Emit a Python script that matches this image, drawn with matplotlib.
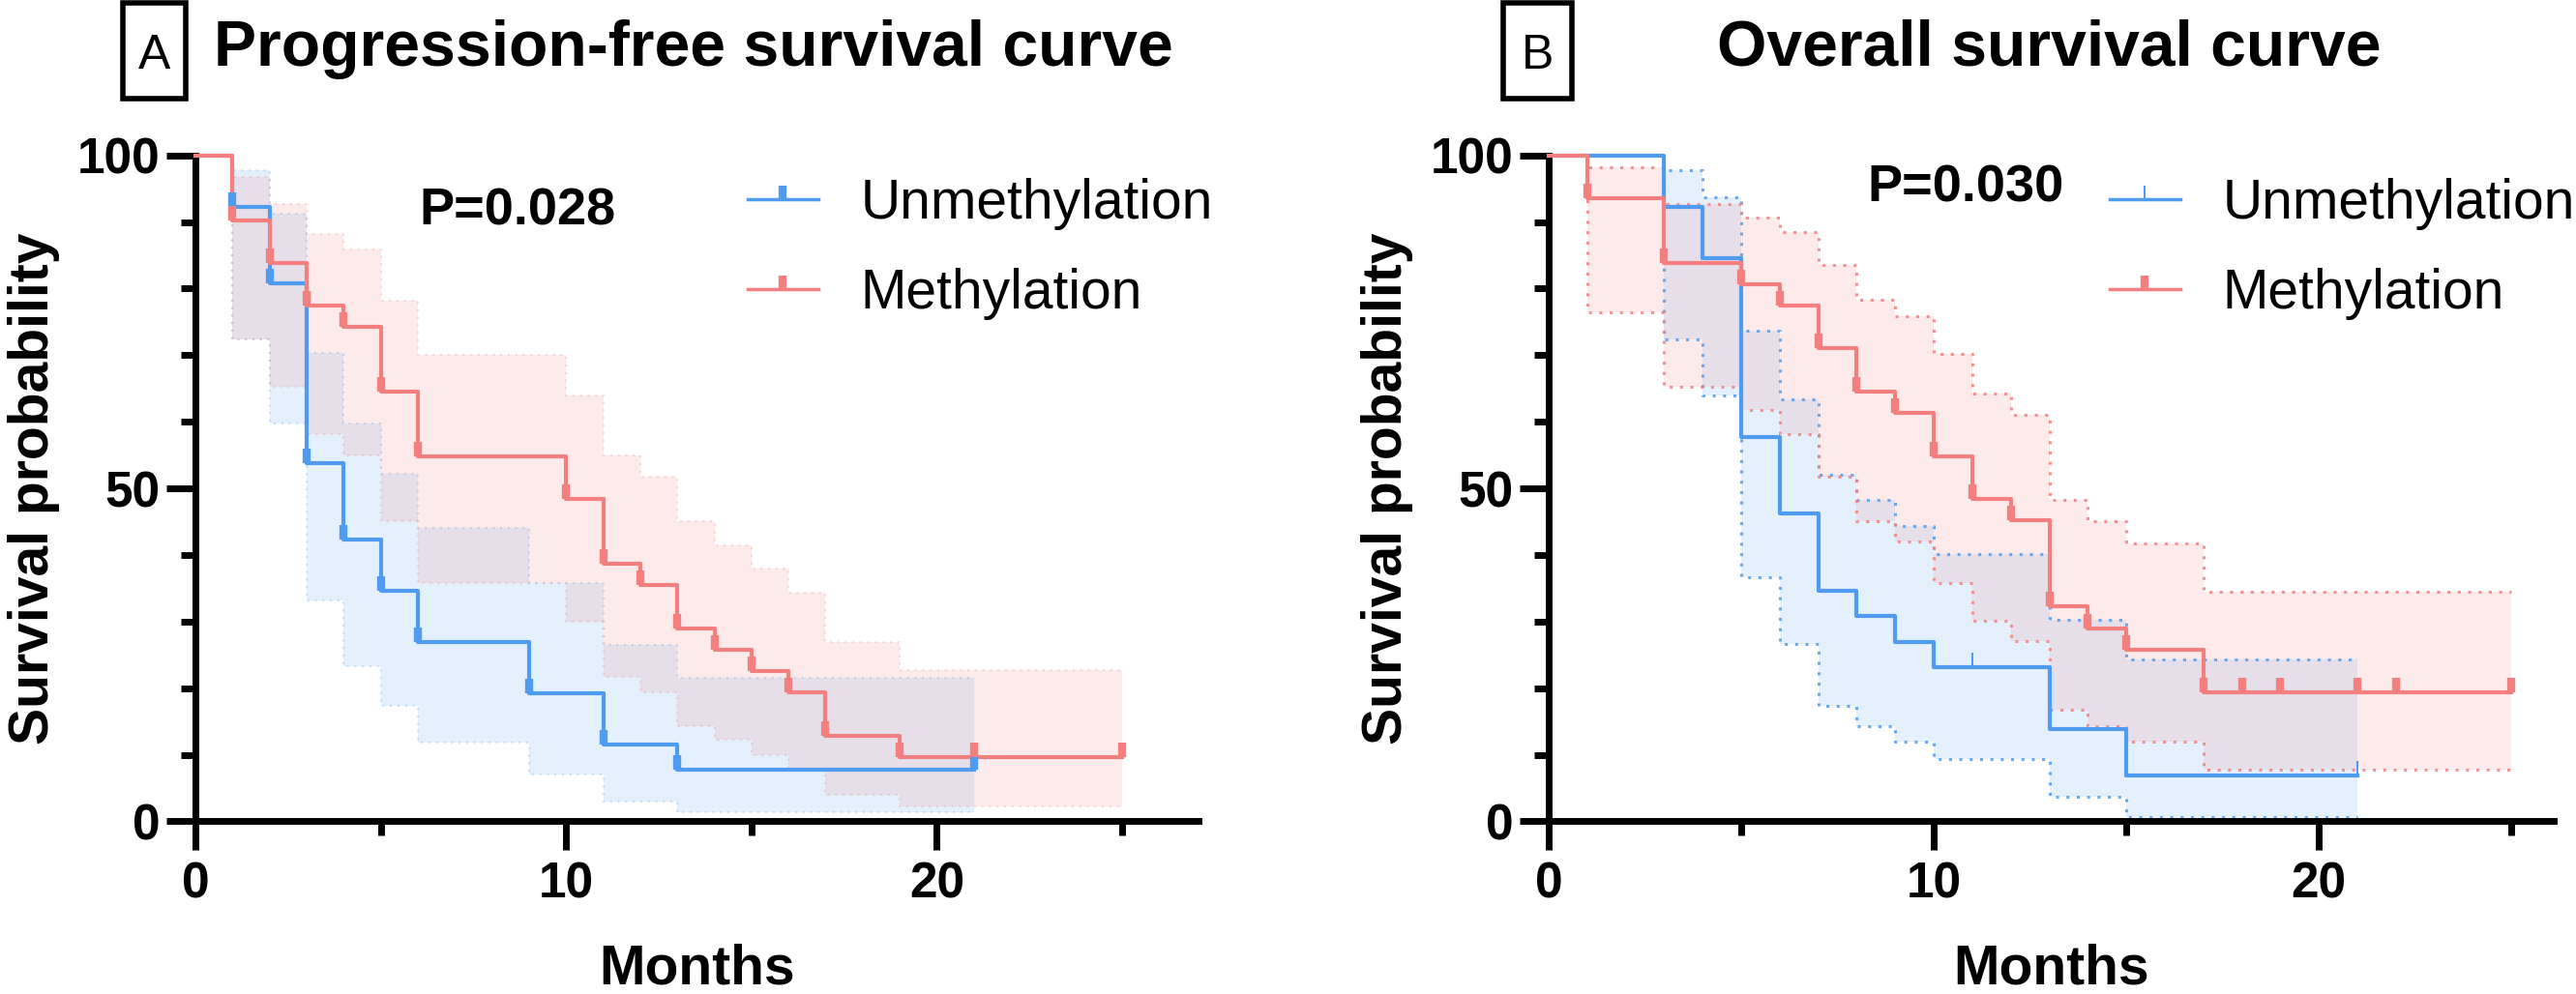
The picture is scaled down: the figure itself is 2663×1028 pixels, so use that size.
import matplotlib
matplotlib.use("Agg")
import matplotlib.pyplot as plt
from matplotlib.lines import Line2D
from matplotlib.patches import Rectangle
from matplotlib.ticker import MultipleLocator, FixedLocator

plt.rcParams['font.family'] = ['Liberation Sans', 'DejaVu Sans']

# ---------------- data ----------------
# Progression-free survival
pfs_un_t = [0, 1, 2, 3, 4, 5, 6, 9, 11, 13, 21]
pfs_un_s = [100, 92.3, 80.8, 53.8, 42.3, 34.6, 26.9, 19.2, 11.5, 7.7, 7.7]
pfs_un_hi = [100, 97.8, 91.3, 70.3, 59.8, 52.2, 44.0, 35.8, 26.5, 21.5, 21.5]
pfs_un_lo = [100, 72.3, 59.7, 33.2, 23.3, 17.3, 11.8, 7.0, 3.0, 1.3, 1.3]
pfs_un_cens = [1, 2, 3, 4, 5, 6, 9, 11, 13, 21]

pfs_me_t = [0, 1, 2, 3, 4, 5, 6, 10, 11, 12, 13, 14, 15, 16, 17, 19, 25]
pfs_me_s = [100, 90.3, 83.9, 77.4, 74.2, 64.5, 54.8, 48.4, 38.7, 35.5, 29.0, 25.8, 22.6, 19.4, 12.9, 9.7, 9.7]
pfs_me_hi = [100, 96.7, 92.7, 88.2, 85.8, 78.2, 70.0, 64.0, 54.9, 51.7, 45.0, 41.5, 38.0, 34.3, 26.9, 22.7, 22.7]
pfs_me_lo = [100, 72.3, 65.3, 58.2, 54.9, 45.0, 35.8, 30.0, 21.7, 19.3, 14.3, 12.2, 10.0, 7.8, 4.0, 2.3, 2.3]
pfs_me_cens = [1, 2, 3, 4, 5, 6, 10, 11, 12, 13, 14, 15, 16, 17, 19, 21, 25]

# Overall survival
os_un_t = [0, 3, 4, 5, 6, 7, 8, 9, 10, 13, 15, 21]
os_un_s = [100, 92.3, 84.6, 57.7, 46.2, 34.6, 30.8, 26.9, 23.1, 13.8, 6.9, 6.9]
os_un_hi = [100, 97.8, 93.7, 73.7, 63.3, 52.0, 48.3, 44.3, 40.1, 30.2, 24.3, 24.3]
os_un_lo = [100, 72.3, 64.0, 36.7, 26.7, 17.3, 14.3, 12.0, 9.3, 3.7, 0.7, 0.7]
os_un_cens = [11, 21]

os_me_t = [0, 1, 3, 5, 6, 7, 8, 9, 10, 11, 12, 13, 14, 15, 17, 25]
os_me_s = [100, 93.5, 83.9, 80.6, 77.4, 71.0, 64.5, 61.3, 54.8, 48.4, 45.2, 32.3, 29.0, 25.8, 19.4, 19.4]
os_me_hi = [100, 98.2, 92.7, 90.7, 88.5, 83.5, 78.3, 75.8, 70.2, 64.2, 61.1, 48.3, 45.0, 41.7, 34.5, 34.5]
os_me_lo = [100, 76.5, 65.3, 61.7, 58.2, 51.7, 45.0, 42.0, 35.8, 30.1, 27.1, 16.7, 14.3, 12.0, 7.8, 7.8]
os_me_cens = [1, 3, 5, 6, 7, 8, 9, 10, 11, 12, 13, 14, 15, 17, 18, 19, 21, 22, 25]

groups = ["Unmethylation", "Methylation"]
titles = ["Progression-free survival curve", "Overall survival curve"]
panel_letters = ["A", "B"]
pvalues = ["P=0.028", "P=0.030"]
x_major = [0, 10, 20]
x_minor = [5, 15, 25]
y_major = [0, 50, 100]

BLUE = "#4F9BF0"
RED = "#F47F7F"

W, H = 2663, 1028
fig = plt.figure(figsize=(W / 100, H / 100), dpi=100)


def step_value(times, vals, t):
    v = vals[0]
    for ti, vi in zip(times, vals):
        if ti <= t:
            v = vi
    return v


def km_panel(ax, series, xmax, edge_alpha, edge_lw):
    # confidence bands
    for (t, s, hi, lo, cens, col, mew) in series:
        ax.fill_between(t, lo, hi, step='post', color=col, alpha=0.15, lw=0, zorder=1)
    for (t, s, hi, lo, cens, col, mew) in series:
        for b in (hi, lo):
            ax.step(t, b, where='post', color=col, alpha=edge_alpha, lw=edge_lw,
                    ls=(0, (1, 2.5)), zorder=2)
    # survival curves + censor ticks
    for (t, s, hi, lo, cens, col, mew) in series:
        ax.step(t, s, where='post', color=col, lw=3, zorder=4, clip_on=False)
        cy = [step_value(t, s, c) for c in cens]
        ax.plot(cens, cy, ls='none', marker=2, ms=11, mew=mew, color=col,
                zorder=5, clip_on=False)
    ax.set_xlim(0, xmax)
    ax.set_ylim(0, 100)
    for sp in ('top', 'right'):
        ax.spines[sp].set_visible(False)
    for sp in ('left', 'bottom'):
        ax.spines[sp].set_linewidth(5)
    ax.xaxis.set_major_locator(FixedLocator(x_major))
    ax.xaxis.set_minor_locator(FixedLocator(x_minor))
    ax.yaxis.set_major_locator(FixedLocator(y_major))
    ax.yaxis.set_minor_locator(MultipleLocator(10))
    ax.tick_params(which='major', length=21.5, width=5, direction='out')
    ax.tick_params(which='minor', length=11, width=5, direction='out')
    ax.tick_params(axis='x', which='major', pad=8, labelsize=37)
    ax.tick_params(axis='y', which='major', pad=5, labelsize=37)
    for lab in ax.get_xticklabels() + ax.get_yticklabels():
        lab.set_fontweight('bold')
    ax.set_xlabel("Months", fontsize=41, fontweight='bold', va='baseline')
    ax.xaxis.set_label_coords(0.5, -0.2435)
    ax.set_ylabel("Survival probability", fontsize=41, fontweight='bold')
    ax.yaxis.set_label_coords(-0.135, 0.5)


bottom = (H - 849.4) / H
height = 688.7 / H

axA = fig.add_axes([202 / W, bottom, 1037 / W, height])
km_panel(axA, [
    (pfs_un_t, pfs_un_s, pfs_un_hi, pfs_un_lo, pfs_un_cens, BLUE, 6),
    (pfs_me_t, pfs_me_s, pfs_me_hi, pfs_me_lo, pfs_me_cens, RED, 6),
], 27.06, 0.25, 1.6)

axB = fig.add_axes([1601 / W, bottom, 1039 / W, height])
km_panel(axB, [
    (os_un_t, os_un_s, os_un_hi, os_un_lo, os_un_cens, BLUE, 1.5),
    (os_me_t, os_me_s, os_me_hi, os_me_lo, os_me_cens, RED, 6),
], 26.1, 0.85, 2.2)

# P values
axA.text(6.03, 89.6, pvalues[0], fontsize=39, fontweight='bold', va='baseline', ha='left')
axB.text(8.27, 93.0, pvalues[1], fontsize=39, fontweight='bold', va='baseline', ha='left')

# legends
for ax, left_px, un_mew in ((axA, 773, 6), (axB, 2181, 1.5)):
    handles = [
        Line2D([], [], color=BLUE, lw=2.5, marker=2, ms=10, mew=un_mew),
        Line2D([], [], color=RED, lw=2.5, marker=2, ms=10, mew=6),
    ]
    ax.legend(handles, groups, loc='upper left',
              bbox_to_anchor=(left_px / W, 1 - 184 / H), bbox_transform=fig.transFigure,
              frameon=False, fontsize=41, handlelength=1.28, handletextpad=0.77,
              labelspacing=0.68, borderpad=0, borderaxespad=0, numpoints=1)

# titles and panel letters
fig.text(221 / W, 1 - 68 / H, titles[0], fontsize=47.5, fontweight='bold', va='baseline', ha='left')
fig.text(1775 / W, 1 - 68 / H, titles[1], fontsize=47.5, fontweight='bold', va='baseline', ha='left')
for letter, x0, x1 in ((panel_letters[0], 127, 192), (panel_letters[1], 1554, 1625)):
    fig.patches.append(Rectangle((x0 / W, 1 - 102 / H), (x1 - x0) / W, 99 / H,
                                 transform=fig.transFigure, fill=False, lw=4, ec='black'))
    fig.text((x0 + x1) / 2 / W, 1 - 71 / H, letter, fontsize=36, va='baseline', ha='center')

fig.savefig("out.png", dpi=100)
